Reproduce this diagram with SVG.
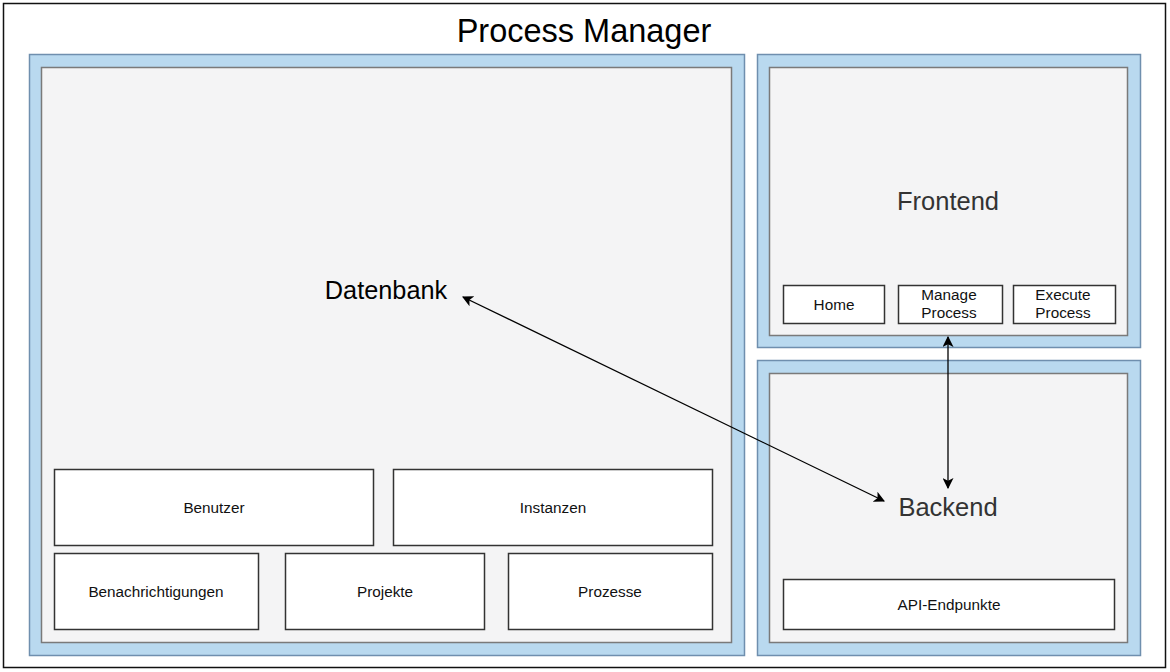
<svg xmlns="http://www.w3.org/2000/svg" width="1170" height="672" viewBox="0 0 1170 672">
<style>
.outer{fill:#b9d9ef;stroke:#6f8fae;stroke-width:1.5}
.inner{fill:#f4f4f5;stroke:#7a7a7a;stroke-width:1.5}
.box{fill:#ffffff;stroke:#333333;stroke-width:1.5}
.lbl{font-family:"Liberation Sans",Arial,sans-serif;font-size:15.3px;fill:#111;text-anchor:middle}
.big{font-family:"Liberation Sans",Arial,sans-serif;text-anchor:middle}
.conn{stroke:#000;stroke-width:1.3;fill:none;marker-start:url(#ah);marker-end:url(#ah)}
</style>
<defs>
<marker id="ah" viewBox="0 0 10 10" refX="9" refY="5" markerWidth="11" markerHeight="11" markerUnits="userSpaceOnUse" orient="auto-start-reverse">
<path d="M0,0 L10,5 L0,10 L2.5,5 Z" fill="#000"/>
</marker>
</defs>
<rect x="0" y="0" width="1170" height="672" fill="#fff"/>
<g id="frame">
<rect x="3.5" y="3.5" width="1162" height="664" fill="#fff" stroke="#111" stroke-width="1.5"/>
<text class="big" x="584" y="42" font-size="32.5" fill="#000">Process Manager</text>
</g>
<g id="datenbank">
<rect class="outer" x="29.5" y="54.5" width="715" height="601"/>
<rect class="inner" x="41.5" y="67.5" width="690" height="575"/>
<text class="big" x="386" y="299" font-size="25.3" fill="#000">Datenbank</text>
</g>
<g id="benutzer"><rect class="box" x="54.5" y="469.5" width="319" height="76"/><text class="lbl" x="214" y="513">Benutzer</text></g>
<g id="instanzen"><rect class="box" x="393.5" y="469.5" width="319" height="76"/><text class="lbl" x="553" y="513">Instanzen</text></g>
<g id="benachrichtigungen"><rect class="box" x="54.5" y="553.5" width="204" height="76"/><text class="lbl" x="156" y="597">Benachrichtigungen</text></g>
<g id="projekte"><rect class="box" x="285.5" y="553.5" width="199" height="76"/><text class="lbl" x="385" y="597">Projekte</text></g>
<g id="prozesse"><rect class="box" x="508.5" y="553.5" width="204" height="76"/><text class="lbl" x="610" y="597">Prozesse</text></g>
<g id="frontend">
<rect class="outer" x="757.5" y="54.5" width="383" height="293"/>
<rect class="inner" x="769.5" y="67.5" width="358" height="268"/>
<text class="big" x="948" y="210" font-size="25.5" fill="#333">Frontend</text>
</g>
<g id="home"><rect class="box" x="783.5" y="285.5" width="101" height="38"/><text class="lbl" x="834" y="310">Home</text></g>
<g id="manage"><rect class="box" x="898.5" y="285.5" width="104" height="38"/><text class="lbl" x="949" y="300">Manage</text><text class="lbl" x="949" y="318">Process</text></g>
<g id="execute"><rect class="box" x="1013.5" y="285.5" width="102" height="38"/><text class="lbl" x="1063" y="300">Execute</text><text class="lbl" x="1063" y="318">Process</text></g>
<g id="backend">
<rect class="outer" x="757.5" y="360.5" width="383" height="295"/>
<rect class="inner" x="769.5" y="373.5" width="358" height="269"/>
<text class="big" x="948" y="516" font-size="25.5" fill="#333">Backend</text>
</g>
<g id="api"><rect class="box" x="783.5" y="579.5" width="331" height="50"/><text class="lbl" x="949" y="610">API-Endpunkte</text></g>
<g id="connectors">
<line class="conn" x1="948" y1="337" x2="948" y2="488"/>
<line class="conn" x1="463" y1="297" x2="884" y2="501"/>
</g>
</svg>
